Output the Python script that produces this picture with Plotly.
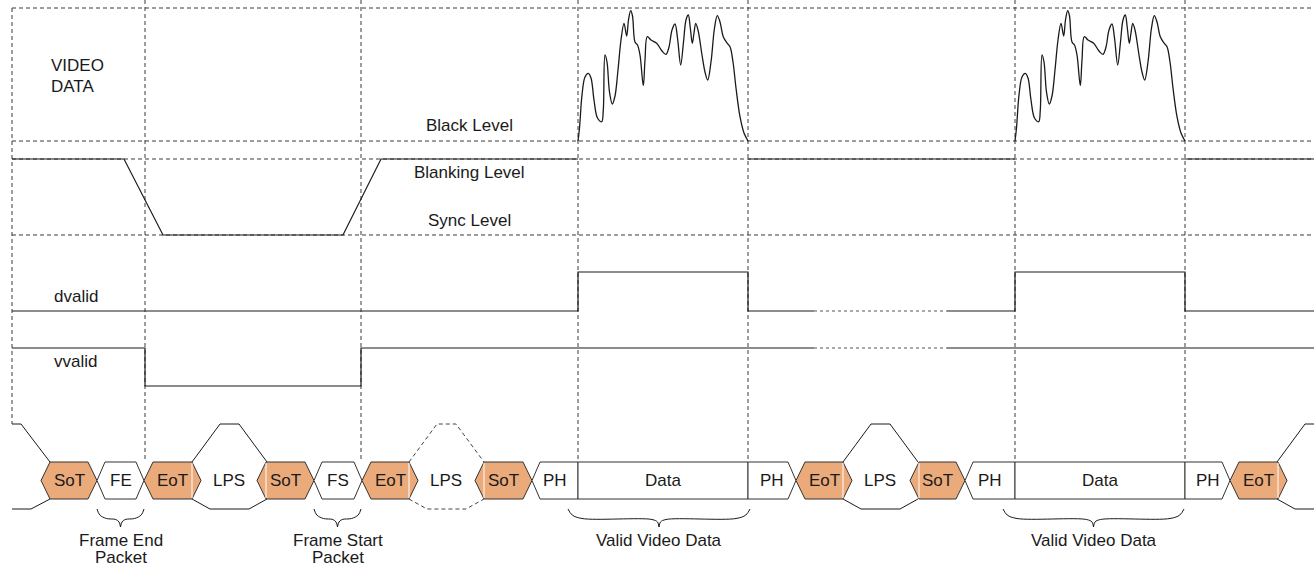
import plotly.graph_objects as go

W, H = 1314, 569

# ---- reference levels (pixel space, y grows downward) ----
LEVEL_TOP = 8
LEVEL_BLACK = 141
LEVEL_BLANK = 159
LEVEL_SYNC = 235
DVALID_HI, DVALID_LO = 272, 311
VVALID_HI, VVALID_LO = 348, 386
PKT_TOP, PKT_BOT = 462, 499
LPS_HI, LPS_LO = 424, 509

LEFT_EDGE, RIGHT_EDGE = 12, 1314
MARKERS = [145, 361, 578, 748, 1015, 1185]

# ---- analog video: blanking / sync ----
SYNC_X = [12, 124, 163, 343, 381, 578]
SYNC_Y = [159, 159, 235, 235, 159, 159]
BLANK_SEGMENTS = [(748, 1015), (1185, 1314)]

# ---- video line content (offset from line start, level) ----
VIDEO_STARTS = [578, 1015]
VIDEO_T = [0, 1.5, 4, 7, 10.3, 13, 16, 19.5, 23.7, 25.3, 27, 29, 31.5, 34.3, 37, 40, 43, 46,
           48.7, 50.5, 52.7, 54.5, 57, 59.5, 62, 65.3, 67, 69.3, 73, 78.7, 84, 88, 91,
           94, 97, 99.5, 102.7, 105.5, 108, 110.3, 112.3, 114.3, 116, 117.7, 120,
           124, 127, 129.7, 133, 136.5, 139.3, 142, 145.3, 149, 152, 155, 158,
           162, 166, 170]
VIDEO_Y = [141, 128, 95, 77, 73.3, 78, 100, 118, 121.7, 110, 55, 62, 92, 104, 96, 70, 40, 23.3,
           36, 20, 10.7, 16, 42, 45, 55, 85.7, 60, 36.7, 40, 43.3, 51, 54.3, 47,
           30, 24, 38, 65, 42, 20, 15, 28, 43.3, 33, 23.3, 30,
           55, 72, 80, 62, 28, 15.7, 22, 36.7, 43, 46.7, 62, 88,
           116.7, 133, 141]

# ---- control signals ----
DVALID_X = [12, 578, 578, 748, 748, 814]
DVALID_Y = [311, 311, 272, 272, 311, 311]
DVALID2_X = [947, 1015, 1015, 1185, 1185, 1314]
DVALID2_Y = [311, 311, 272, 272, 311, 311]
VVALID_X = [12, 145, 145, 361, 361, 814]
VVALID_Y = [348, 348, 386, 386, 348, 348]
VVALID2_X = [947, 1314]
VVALID2_Y = [348, 348]
GAP_X = [814, 947]

# ---- packet stream ----
PKT_LABEL = ["SoT", "FE", "EoT", "SoT", "FS", "EoT", "SoT", "PH", "Data", "PH",
             "EoT", "SoT", "PH", "Data", "PH", "EoT"]
PKT_X0 = [41, 97, 144, 257, 314, 362, 475, 532, 578, 748, 796, 910, 965, 1015, 1185, 1230]
PKT_X1 = [97, 144, 201, 314, 362, 418, 532, 578, 748, 796, 852, 965, 1015, 1185, 1230, 1287]
PKT_LEFT_POINT = [1, 1, 1, 1, 1, 1, 1, 1, 0, 0, 1, 1, 1, 0, 0, 1]
PKT_RIGHT_POINT = [1, 1, 1, 1, 1, 1, 1, 0, 0, 1, 1, 1, 0, 0, 1, 1]
ORANGE = {"SoT", "EoT"}

# low-power-state connectors: (x of EoT corner, x of SoT corner, dashed)
LPS_X0 = [192, 409, 843, 1277]
LPS_X1 = [267, 484, 918, 1345]
LPS_DASH = [False, True, False, False]
LPS_LABEL_X = [229, 446, 880]
LEAD_IN_X1 = 50

# ---- braces and captions ----
BRACE_X0 = [97, 314, 568, 1003]
BRACE_X1 = [144, 361, 750, 1184]
BRACE_LINE1 = ["Frame End", "Frame Start", "Valid Video Data", "Valid Video Data"]
BRACE_LINE2 = ["Packet", "Packet", "", ""]

FONT = "Liberation Sans, Arial, Helvetica, sans-serif"
FS = 17
INK = "#1a1a1a"
GUIDE = "#3a3a3a"
FILL = "#EAAA7A"

fig = go.Figure()


def line(xs, ys, color=INK, width=1.2, dash=None, shape="linear"):
    fig.add_trace(go.Scatter(x=xs, y=ys, mode="lines", hoverinfo="skip",
                             line=dict(color=color, width=width, dash=dash, shape=shape)))


def label(txt, xx, yy, xanchor="center"):
    fig.add_annotation(x=xx, y=yy, text=txt, showarrow=False, align="left",
                       font=dict(family=FONT, size=FS, color=INK),
                       xanchor=xanchor, yanchor="middle", borderpad=0)


# dashed guides
for yv in [LEVEL_TOP, LEVEL_BLACK, LEVEL_BLANK, LEVEL_SYNC]:
    line([LEFT_EDGE, RIGHT_EDGE], [yv, yv], GUIDE, 1, "4px,3px")
line([LEFT_EDGE, LEFT_EDGE], [LEVEL_TOP, LPS_HI], GUIDE, 1, "4px,3px")
for xv in MARKERS:
    line([xv, xv], [0, PKT_TOP], GUIDE, 1, "4px,3px")

# analog waveform
line(SYNC_X, SYNC_Y)
for a, b in BLANK_SEGMENTS:
    line([a, b], [LEVEL_BLANK, LEVEL_BLANK])
for s in VIDEO_STARTS:
    line([s + t for t in VIDEO_T], VIDEO_Y, width=1.3, shape="spline")

# control signals
line(DVALID_X, DVALID_Y)
line(DVALID2_X, DVALID2_Y)
line(VVALID_X, VVALID_Y)
line(VVALID2_X, VVALID2_Y)
line(GAP_X, [DVALID_LO, DVALID_LO], "#555555", 1, "3px,3px")
line(GAP_X, [VVALID_HI, VVALID_HI], "#555555", 1, "3px,3px")

# packets
MID = (PKT_TOP + PKT_BOT) / 2
for lab, x0, x1, lp, rp in zip(PKT_LABEL, PKT_X0, PKT_X1, PKT_LEFT_POINT, PKT_RIGHT_POINT):
    b = 9 if lab in ORANGE else 8
    xs, ys = [], []
    if lp:
        xs += [x0, x0 + b]; ys += [MID, PKT_TOP]
    else:
        xs += [x0, x0]; ys += [PKT_BOT, PKT_TOP]
    if rp:
        xs += [x1 - b, x1, x1 - b]; ys += [PKT_TOP, MID, PKT_BOT]
    else:
        xs += [x1, x1]; ys += [PKT_TOP, PKT_BOT]
    if lp:
        xs += [x0 + b, x0]; ys += [PKT_BOT, MID]
    else:
        xs += [x0]; ys += [PKT_BOT]
    fig.add_trace(go.Scatter(x=xs, y=ys, mode="lines", fill="toself", hoverinfo="skip",
                             fillcolor=FILL if lab in ORANGE else "white",
                             line=dict(color="#333333", width=1)))
    if lab == "EoT":
        line([x1 - b, x1 - b], [PKT_TOP + 1, PKT_BOT - 1], "white", 1)
    elif lab == "SoT" and x0 > LEAD_IN_X1:
        line([x0 + b, x0 + b], [PKT_TOP + 1, PKT_BOT - 1], "white", 1)
    label(lab, (x0 + x1) / 2, MID)

# LPS connectors
for x0, x1, dsh in zip(LPS_X0, LPS_X1, LPS_DASH):
    d = "4px,3px" if dsh else None
    c = "#444444" if dsh else INK
    line([x0, x0 + 28, x1 - 28, x1], [PKT_TOP, LPS_HI, LPS_HI, PKT_TOP], c, 1, d)
    line([x0, x0 + 18, x1 - 18, x1], [PKT_BOT, LPS_LO, LPS_LO, PKT_BOT], c, 1, d)
for xl in LPS_LABEL_X:
    label("LPS", xl, MID)
line([LEFT_EDGE, LEAD_IN_X1 - 29, LEAD_IN_X1], [LPS_HI, LPS_HI, PKT_TOP], INK, 1)
line([LEFT_EDGE, LEAD_IN_X1 - 19, LEAD_IN_X1], [LPS_LO, LPS_LO, PKT_BOT], INK, 1)

# braces
for x0, x1, t1, t2 in zip(BRACE_X0, BRACE_X1, BRACE_LINE1, BRACE_LINE2):
    xm = (x0 + x1) / 2
    r = min(14, (x1 - x0) / 5)
    line([x0, x0 + r * 0.3, x0 + r, xm - r * 0.5, xm - 1.5, xm],
         [509, 515, 518.5, 519.5, 522, 527], INK, 1, None, "spline")
    line([xm, xm + 1.5, xm + r * 0.5, x1 - r, x1 - r * 0.3, x1],
         [527, 522, 519.5, 518.5, 515, 509], INK, 1, None, "spline")
    label(t1, xm, 540)
    if t2:
        label(t2, xm, 557.5)

# labels
label("VIDEO", 50, 65, "left")
label("DATA", 50, 86, "left")
label("Black Level", 469, 125)
label("Blanking Level", 469, 172)
label("Sync Level", 469, 220)
label("dvalid", 53, 296, "left")
label("vvalid", 53, 361, "left")

fig.update_layout(
    width=W, height=H, margin=dict(l=0, r=0, t=0, b=0),
    paper_bgcolor="white", plot_bgcolor="white", showlegend=False,
    xaxis=dict(range=[0, W], visible=False, fixedrange=True),
    yaxis=dict(range=[H, 0], visible=False, fixedrange=True),
)

fig.write_html("out.html", config={"displayModeBar": False},
               post_script="document.body.style.margin='0';document.body.style.overflow='hidden';")
